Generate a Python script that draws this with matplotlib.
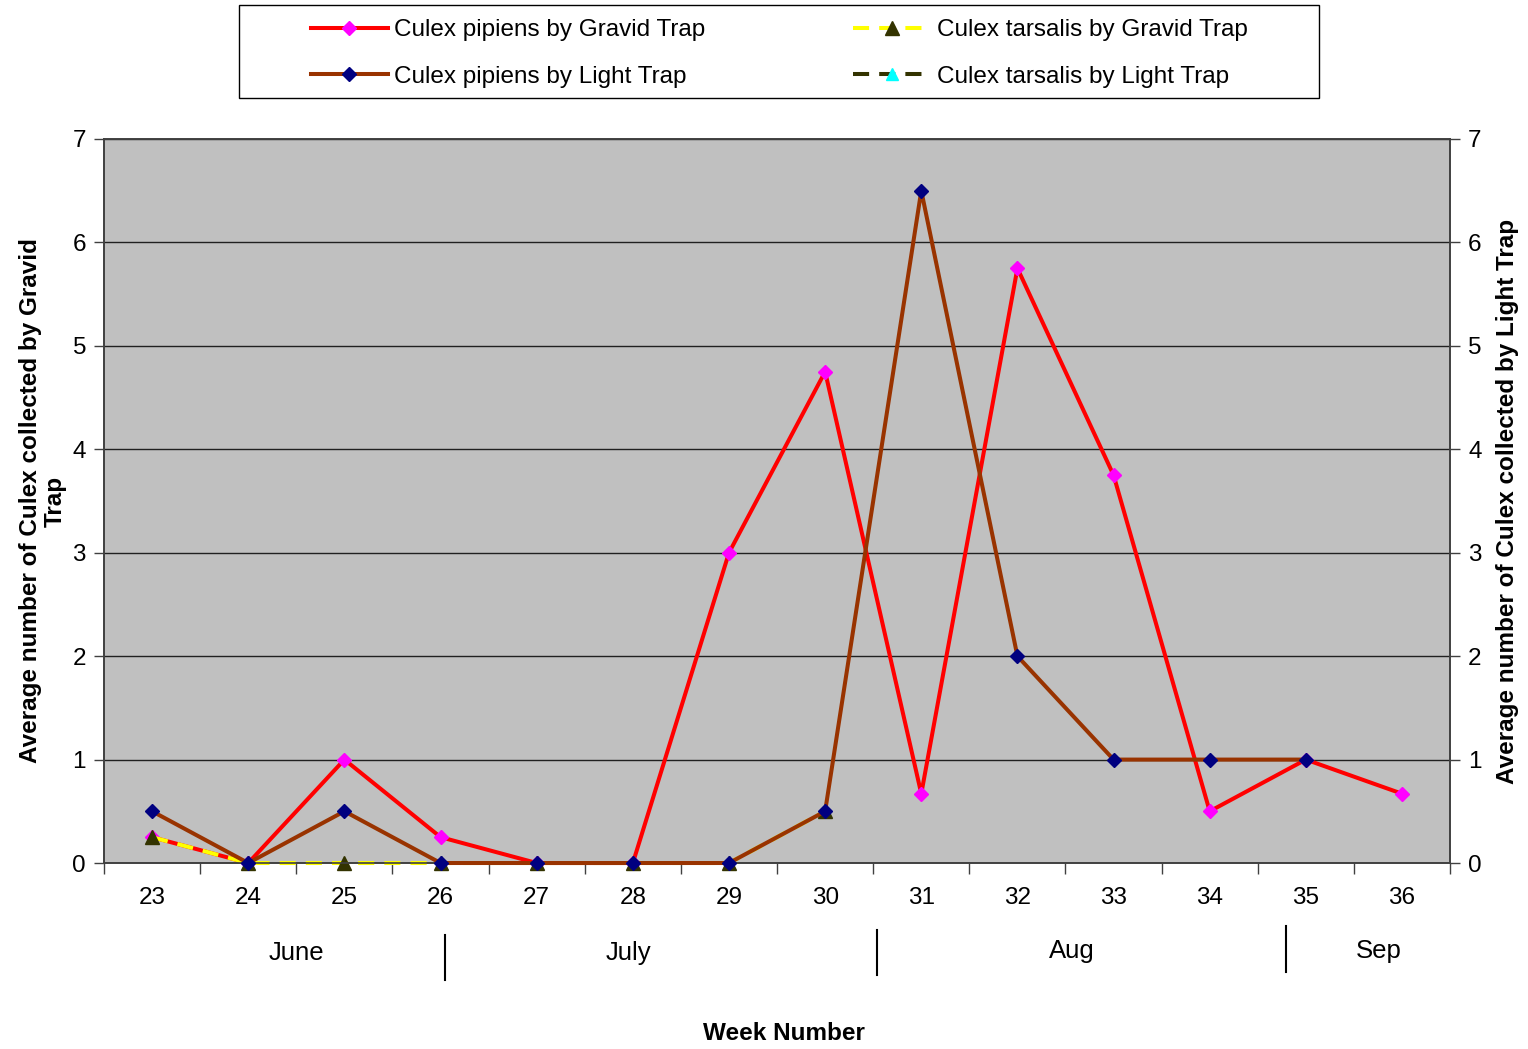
import matplotlib.pyplot as plt
import numpy as np
from matplotlib.lines import Line2D
from matplotlib.patches import Rectangle

plt.rcParams['font.family'] = ['Liberation Sans', 'DejaVu Sans']

# weekly averages of Culex collected (NaN = no collection)
weeks = [23, 24, 25, 26, 27, 28, 29, 30, 31, 32, 33, 34, 35, 36]
pipiens_gravid = [0.25, 0, 1, 0.25, 0, 0, 3, 4.75, 0.67, 5.75, 3.75, 0.5, 1, 0.67]
tarsalis_gravid = [0.25, 0, 0, 0, 0, 0, 0, 0.5, np.nan, np.nan, np.nan, np.nan, np.nan, np.nan]
pipiens_light = [0.5, 0, 0.5, 0, 0, 0, 0, 0.5, 6.5, 2, 1, 1, 1, np.nan]
tarsalis_light = [np.nan] * 14

months = ["June", "July", "Aug", "Sep"]

# layout of the month row under the week axis (category index units)
month_x = [1.5, 4.95, 9.57, 12.76]
month_y = [-0.124, -0.124, -0.121, -0.121]
sep_x = [3.05, 7.54, 11.79]
sep_y = [(-0.10, -0.162), (-0.093, -0.155), (-0.087, -0.151)]

FS = 17.5
LW = 2.9

fig = plt.figure(figsize=(15.28, 10.49), dpi=100)
ax = fig.add_axes([0.0681, 0.1773, 0.8809, 0.6902])
ax2 = ax.twinx()

x = np.arange(len(weeks))
ax.set_facecolor('#C0C0C0')

ax.plot(x, pipiens_gravid, color='#FF0000', lw=LW, marker='D', ms=7.5,
        mfc='#FF00FF', mec='#FF00FF', label='Culex pipiens by Gravid Trap', zorder=3, clip_on=False)
ax.plot(x, tarsalis_gravid, color='#FFFF00', lw=LW, ls=(0, (4, 2.5)), marker='^', ms=10,
        mfc='#333300', mec='#333300', label='Culex tarsalis by Gravid Trap', zorder=4, clip_on=False)
ax2.plot(x, pipiens_light, color='#993300', lw=LW, marker='D', ms=7.5,
         mfc='#000080', mec='#000080', label='Culex pipiens by Light Trap', zorder=3, clip_on=False)
ax2.plot(x, tarsalis_light, color='#333300', lw=LW, ls=(0, (4, 2.5)), marker='^', ms=9,
         mfc='#00FFFF', mec='#00FFFF', label='Culex tarsalis by Light Trap', zorder=4, clip_on=False)

for a in (ax, ax2):
    a.set_ylim(0, 7)
    a.set_xlim(-0.5, len(weeks) - 0.5)
    a.set_yticks(range(0, 8))
    a.tick_params(axis='y', labelsize=FS, length=7, width=1, direction='out', color='#404040', pad=6)
    for s in a.spines.values():
        s.set_color('#404040')
        s.set_linewidth(1.2)

ax.grid(axis='y', color='#202020', lw=1)
ax.set_axisbelow(True)

# category boundaries carry the tick marks, centres carry the labels
ax.set_xticks(np.arange(-0.5, len(weeks)), labels=[''] * (len(weeks) + 1))
ax.set_xticks(x, labels=[str(w) for w in weeks], minor=True)
ax.tick_params(axis='x', which='major', length=8, width=1, color='#404040', direction='out')
ax.tick_params(axis='x', which='minor', length=0, labelsize=FS, pad=17)

ax.set_ylabel('Average number of Culex collected by Gravid\nTrap', fontsize=FS,
              fontweight='bold', linespacing=1.1)
ax2.set_ylabel('Average number of Culex collected by Light Trap', fontsize=FS,
               fontweight='bold', labelpad=10)
ax.yaxis.set_label_coords(-0.028, 0.5)

trans = ax.get_xaxis_transform()
for m, mx, my in zip(months, month_x, month_y):
    ax.text(mx, my, m, transform=trans, ha='center', va='center', fontsize=18.5)
for sx, (y0, y1) in zip(sep_x, sep_y):
    ax.add_line(Line2D([sx, sx], [y0, y1], transform=trans, color='black', lw=1.5, clip_on=False))

fig.text(0.513, 1 - 1033 / 1049, 'Week Number', ha='center', va='center', fontsize=FS, fontweight='bold')

# legend box with two columns of entries
fig.add_artist(Rectangle((0.1564, 0.9066), 0.7068, 0.0887, transform=fig.transFigure,
                         facecolor='white', edgecolor='black', lw=1))
handles = [ax.get_lines()[0], ax.get_lines()[1], ax2.get_lines()[0], ax2.get_lines()[1]]
order = [0, 2, 1, 3]
leg = fig.legend([handles[i] for i in order], [handles[i].get_label() for i in order],
                 loc='center', bbox_to_anchor=(779 / 1528, 1 - 53.5 / 1049),
                 ncol=2, fontsize=FS, frameon=False, handlelength=3.2, handletextpad=0.25,
                 borderaxespad=0, columnspacing=6.05, labelspacing=1.0, borderpad=0)

fig.savefig('out.png', dpi=100)
